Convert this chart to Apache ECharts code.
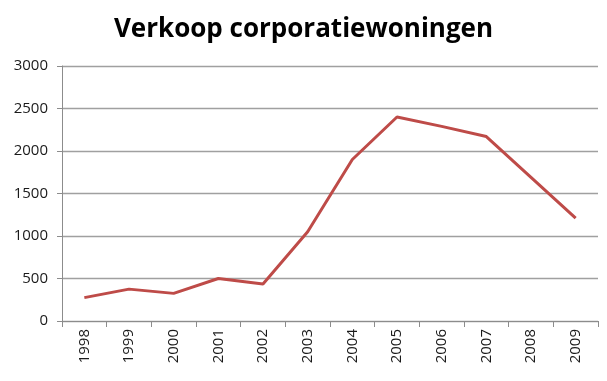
<!DOCTYPE html>
<html>
<head>
<meta charset="utf-8">
<script src="https://cdn.jsdelivr.net/npm/echarts@6/dist/echarts.min.js"></script>
<style>html,body{margin:0;padding:0;background:#fff;}#c{width:607px;height:381px;}</style>
</head>
<body>
<div id="c"></div>
<script>
const titleText = "Verkoop corporatiewoningen";
const years = ["1998","1999","2000","2001","2002","2003","2004","2005","2006","2007","2008","2009"];
const sales = [275, 375, 325, 500, 435, 1050, 1900, 2400, 2290, 2170, 1690, 1210];
const yMin = 0, yMax = 3000, yStep = 500;

const chart = echarts.init(document.getElementById('c'), null, {renderer: 'canvas'});
chart.setOption({
  animation: false,
  backgroundColor: '#ffffff',
  title: {
    text: titleText,
    left: 'center',
    top: 12,
    textStyle: {fontFamily: 'Open Sans', fontWeight: 'bold', fontSize: 26, color: '#000'}
  },
  grid: {left: 62, right: 9, top: 66, bottom: 60, containLabel: false},
  xAxis: {
    type: 'category',
    data: years,
    boundaryGap: true,
    axisLine: {lineStyle: {color: '#8c8c8c', width: 1}},
    axisTick: {show: true, alignWithLabel: false, length: 6, lineStyle: {color: '#8c8c8c'}},
    axisLabel: {rotate: 90, fontFamily: 'Open Sans', fontSize: 15, color: '#1a1a1a', margin: 8}
  },
  yAxis: {
    type: 'value',
    min: yMin, max: yMax, interval: yStep,
    axisLine: {show: true, lineStyle: {color: '#8c8c8c', width: 1}},
    axisTick: {show: true, length: 5, lineStyle: {color: '#8c8c8c'}},
    axisLabel: {fontFamily: 'Open Sans', fontSize: 15, color: '#1a1a1a', margin: 14,
      formatter: function (v) { return String(v); }},
    splitLine: {show: true, lineStyle: {color: '#a0a0a0', width: 1.3}}
  },
  series: [{
    type: 'line',
    data: sales,
    symbol: 'none',
    lineStyle: {color: '#be4b48', width: 3},
    itemStyle: {color: '#be4b48'}
  }]
});
</script>
</body>
</html>
